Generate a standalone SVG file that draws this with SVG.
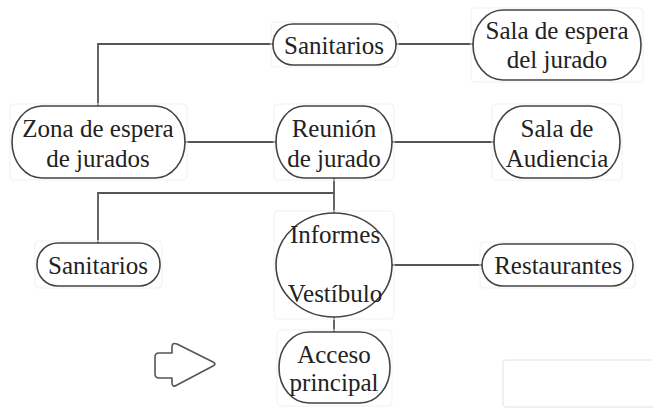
<svg xmlns="http://www.w3.org/2000/svg" width="653" height="409" viewBox="0 0 653 409">
  <style>
    .bg { fill: #ffffff; }
    .frame { fill: none; stroke: #f1f1f1; stroke-width: 1; }
    .node { fill: #ffffff; stroke: #444444; stroke-width: 1.6; }
    .edge { fill: none; stroke: #555555; stroke-width: 1.8; }
    .label { font-size: 25px; fill: #222222; text-anchor: middle; }
    .arrow { fill: #ffffff; stroke: #555555; stroke-width: 1.6; stroke-linejoin: round; }
  </style>
  <rect class="bg" x="0" y="0" width="653" height="409"/>

  <!-- connectors -->
  <g id="connectors">
    <polyline class="edge" points="98,106 98,44 273,44"/>
    <line class="edge" x1="396" y1="44" x2="473" y2="44"/>
    <line class="edge" x1="185" y1="142" x2="276" y2="142"/>
    <line class="edge" x1="392" y1="142" x2="494" y2="142"/>
    <line class="edge" x1="334" y1="178" x2="334" y2="213"/>
    <polyline class="edge" points="334,193 98,193 98,243"/>
    <line class="edge" x1="392" y1="265" x2="482" y2="265"/>
    <line class="edge" x1="334" y1="317" x2="334" y2="332"/>
  </g>

  <g font-family="'Liberation Serif', Tinos, 'Times New Roman', 'DejaVu Serif', serif">
  <g id="sanitarios-top">
    <rect class="frame" x="271" y="22" width="127" height="45" rx="4"/>
    <rect class="node" x="273" y="24" width="123" height="41" rx="20" ry="20"/>
    <text class="label" x="334" y="54">Sanitarios</text>
  </g>

  <g id="sala-espera">
    <rect class="frame" x="471" y="8" width="172" height="74" rx="4"/>
    <rect class="node" x="473" y="10" width="168" height="70" rx="30" ry="35"/>
    <text class="label" x="557" y="39">Sala de espera</text>
    <text class="label" x="557" y="68">del jurado</text>
  </g>

  <g id="zona-espera">
    <rect class="frame" x="10" y="104" width="177" height="76" rx="4"/>
    <rect class="node" x="12" y="106" width="173" height="72" rx="30" ry="36"/>
    <text class="label" x="98" y="137">Zona de espera</text>
    <text class="label" x="98" y="167">de jurados</text>
  </g>

  <g id="reunion">
    <rect class="frame" x="274" y="104" width="120" height="76" rx="4"/>
    <rect class="node" x="276" y="106" width="116" height="72" rx="28" ry="36"/>
    <text class="label" x="334" y="137">Reunión</text>
    <text class="label" x="334" y="167">de jurado</text>
  </g>

  <g id="sala-audiencia">
    <rect class="frame" x="492" y="104" width="130" height="76" rx="4"/>
    <rect class="node" x="494" y="106" width="126" height="72" rx="30" ry="36"/>
    <text class="label" x="557" y="137">Sala de</text>
    <text class="label" x="557" y="167">Audiencia</text>
  </g>

  <g id="sanitarios-left">
    <rect class="frame" x="35" y="241" width="127" height="47" rx="4"/>
    <rect class="node" x="37" y="243" width="123" height="43" rx="21" ry="21"/>
    <text class="label" x="98" y="274">Sanitarios</text>
  </g>

  <g id="informes-vestibulo">
    <rect class="frame" x="274" y="211" width="120" height="108" rx="4"/>
    <ellipse class="node" cx="334" cy="265" rx="58" ry="52"/>
    <text class="label" x="335" y="243">Informes</text>
    <text class="label" x="335" y="302">Vestíbulo</text>
  </g>

  <g id="restaurantes">
    <rect class="frame" x="480" y="242" width="155" height="46" rx="4"/>
    <rect class="node" x="482" y="244" width="151" height="42" rx="21" ry="21"/>
    <text class="label" x="558" y="274">Restaurantes</text>
  </g>

  <g id="acceso">
    <rect class="frame" x="277" y="330" width="115" height="76" rx="4"/>
    <rect class="node" x="279" y="332" width="111" height="71" rx="30" ry="35"/>
    <text class="label" x="334" y="363">Acceso</text>
    <text class="label" x="334" y="391">principal</text>
  </g>
  </g>

  <!-- entrance marker -->
  <path class="arrow" d="M 172,353 L 172,347 Q 172,342 177,344 L 213,362 Q 217,364 213,366 L 177,385 Q 172,388 172,383 L 172,378 L 159,378 Q 155,378 155,374 L 155,357 Q 155,353 159,353 Z"/>

  <!-- empty panel outline -->
  <rect x="503" y="360" width="160" height="47" rx="3" fill="none" stroke="#e2e2e2" stroke-width="1"/>
</svg>
